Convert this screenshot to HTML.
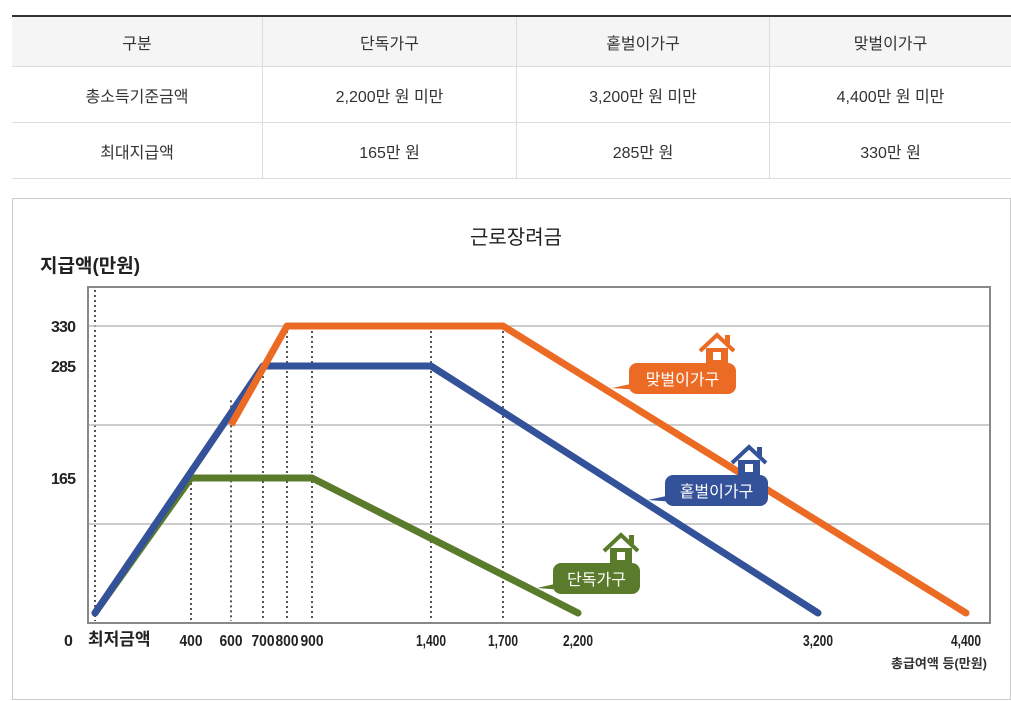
<!DOCTYPE html>
<html><head><meta charset="utf-8">
<style>
body{margin:0;width:1011px;height:701px;background:#fff;font-family:"Liberation Sans","Noto Sans CJK KR",sans-serif;overflow:hidden;position:relative}
table{position:absolute;left:12px;top:15px;width:999px;border-collapse:collapse;border-top:2px solid #333}
td{border-bottom:1px solid #ddd;text-align:center;font-size:16px;color:#333;padding:0}
td+td{border-left:1px solid #ddd}
tr.h td{background:#f5f5f5;height:49px}
tr.r td{height:55px}
#chart{position:absolute;left:12px;top:198px;width:997px;height:500px;border:1px solid #ccc}
</style></head><body>
<table>
<tr class="h"><td style="width:250px">구분</td><td style="width:253px">단독가구</td><td style="width:252px">홑벌이가구</td><td>맞벌이가구</td></tr>
<tr class="r"><td>총소득기준금액</td><td>2,200만 원 미만</td><td>3,200만 원 미만</td><td>4,400만 원 미만</td></tr>
<tr class="r"><td>최대지급액</td><td>165만 원</td><td>285만 원</td><td>330만 원</td></tr>
</table>
<div id="chart"></div>
<svg id="svg" width="1011" height="701" style="position:absolute;left:0;top:0">
<text x="516" y="244" font-size="20" text-anchor="middle" fill="#222">근로장려금</text>
<text x="40" y="272" font-size="19" font-weight="bold" fill="#222">지급액(만원)</text>
<text x="891" y="668" font-size="13" font-weight="bold" fill="#333" textLength="96">총급여액 등(만원)</text>
<rect x="88" y="287" width="902" height="336" fill="none" stroke="#888" stroke-width="2"/>
<line x1="95" y1="290" x2="95" y2="621" stroke="#555" stroke-width="2" stroke-dasharray="2,3"/>
<g id="grid"></g><g id="drops"></g><g id="lines"></g><g id="labels"></g>
</svg>
<script>
const xTicks=[400,600,700,800,900,1400,1700,2200,3200,4400];
const xTickLabels=["400","600","700","800","900","1,400","1,700","2,200","3,200","4,400"];
const yTicks=[165,285,330];
const gridVals=[215,330];
const singleX=[0,400,900,2200];
const singleY=[0,165,165,0];
const soloX=[0,700,1400,3200];
const soloY=[0,285,285,0];
const dualX=[0,600,800,1700,4400];
const dualY=[0,215,330,330,0];
const dropVals=[400,600,700,800,900,1400,1700];
// piecewise axis scales (chart uses non-uniform spacing)
const xk=[0,400,600,700,800,900,1400,1700,2200,3200,4400],xp=[95,191,231,263,287,312,431,503,578,818,966];
const yk=[0,165,215,285,330],yp=[613,478,425,366,326];
function interp(v,k,p){for(let i=1;i<k.length;i++){if(v<=k[i]||i==k.length-1){const t=(v-k[i-1])/(k[i]-k[i-1]);return p[i-1]+t*(p[i]-p[i-1]);}}}
const X=v=>interp(v,xk,xp), Y=v=>interp(v,yk,yp);
const NS="http://www.w3.org/2000/svg";
function mk(tag,attrs,parent,txt){const e=document.createElementNS(NS,tag);for(const a in attrs)e.setAttribute(a,attrs[a]);if(txt!=null)e.textContent=txt;document.getElementById(parent).appendChild(e);return e;}
gridVals.forEach(v=>{const e=mk('line',{x1:89,x2:989,y1:Y(v),y2:Y(v),stroke:'#bbb','stroke-width':1.5},'grid');

});
{const e=mk('line',{x1:89,x2:989,y1:524,y2:524,stroke:'#bbb','stroke-width':1.5},'grid');

}
yTicks.forEach(v=>{const e=mk('text',{x:76,y:Y(v)+6,'font-size':16,'font-weight':'bold','text-anchor':'end',fill:'#222',textLength:25},'grid',String(v));

});
{const e=mk('text',{x:64,y:646,'font-size':16,'font-weight':'bold',fill:'#222'},'grid','0');

}
{const e=mk('text',{x:88,y:645,'font-size':17,'font-weight':'bold',fill:'#222'},'grid','최저금액');

}
xTicks.forEach((v,i)=>{const e=mk('text',{x:X(v),y:646,'font-size':16,'font-weight':'bold','text-anchor':'middle',fill:'#222',textLength:xTickLabels[i].length>3?30:23,lengthAdjust:'spacingAndGlyphs'},'grid',xTickLabels[i]);

});
function yAt(v){const s=[[dualX,dualY],[soloX,soloY],[singleX,singleY]];let m=0;s.forEach(([a,b])=>{if(v<=a[a.length-1])m=Math.max(m,interp(v,a,b))});return m;}
dropVals.forEach(v=>{const e=mk('line',{x1:X(v),x2:X(v),y1:Y(yAt(v)),y2:621,stroke:'#555','stroke-width':2,'stroke-dasharray':'2,3'},'drops');

});
function series(xs,ys,color,name,cap){const pts=xs.map((x,i)=>X(x)+','+Y(ys[i])).join(' ');
const e=mk('polyline',{points:pts,fill:'none',stroke:color,'stroke-width':7,'stroke-linejoin':'round','stroke-linecap':cap||'round'},'lines');

}
series(singleX,singleY,'#5b7b2c','single-line');
series(soloX,soloY,'#33529a','single-earner-line');
series(dualX.slice(1),dualY.slice(1),'#ec6b24','dual-income-line','butt');
{const n=dualX.length-1;const e=mk('circle',{cx:X(dualX[n]),cy:Y(dualY[n]),r:3.5,fill:'#ec6b24'},'lines');

}
function label(x,y,w,txt,color,tx,ty,name){
const g=mk('g',{},'labels');


const hx=x+w-36,hy=y;
g.innerHTML=`<path d="M${x+6},${y+20} L${tx},${ty} L${x+10},${y+27} Z" fill="${color}"/>
<rect x="${x}" y="${y}" width="${w}" height="31" rx="8" fill="${color}"/>
<text x="${x+w/2}" y="${y+22}" font-size="16" fill="#fff" text-anchor="middle">${txt}</text>
<path d="M${hx},${hy-12} L${hx+17},${hy-28} L${hx+34},${hy-12}" fill="none" stroke="${color}" stroke-width="4"/>
<rect x="${hx+25}" y="${hy-28}" width="5" height="9" fill="${color}"/>
<rect x="${hx+6}" y="${hy-15}" width="22" height="15" fill="${color}"/>
<rect x="${hx+13}" y="${hy-11}" width="8" height="8" fill="#fff"/>`;}
label(629,363,107,'맞벌이가구','#ec6b24',612,388,'dual-income-label');
label(665,475,103,'홑벌이가구','#33529a',648,500,'single-earner-label');
label(553,563,87,'단독가구','#5b7b2c',537,588,'single-label');
</script>
</body></html>
